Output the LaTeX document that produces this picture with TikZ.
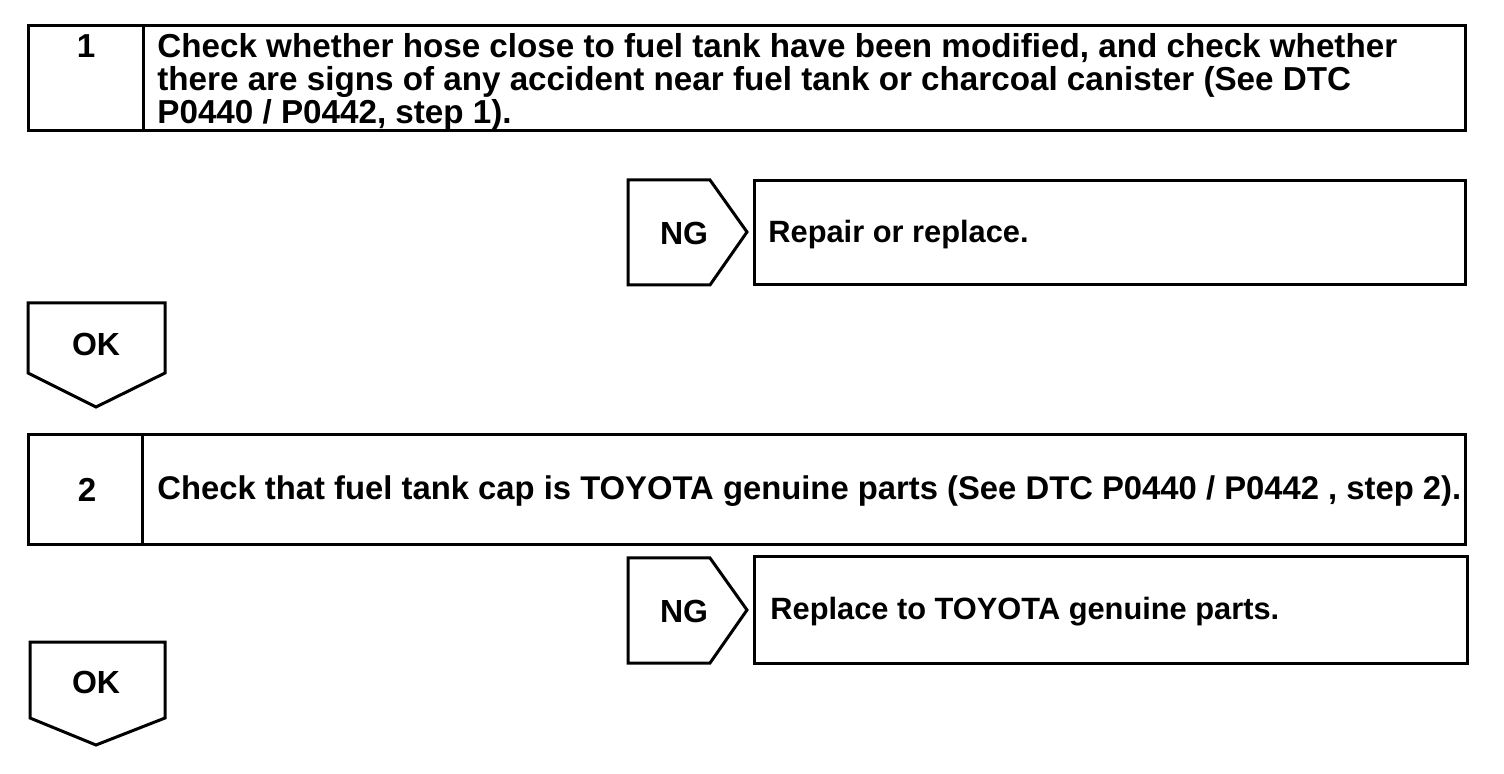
\documentclass[tikz,border=0pt]{standalone}
\usepackage{fontspec}
\setmainfont{Liberation Sans}
\usepackage{tikz}
\usetikzlibrary{positioning}

\tikzset{
  frame/.style={draw, line width=1.5pt, line join=miter},
  lbl/.style={font=\fontsize{16.6}{16.5}\selectfont\bfseries, inner sep=0pt},
  body/.style={lbl, align=left, anchor=west},
  note/.style={body, font=\fontsize{15.4}{16.5}\selectfont\bfseries}
}

\begin{document}
\begin{tikzpicture}[x=0.5pt, y=-0.5pt]
  \useasboundingbox (0,0) rectangle (1504,774);

  % step 1
  \draw[frame] (28,26) rectangle (1465,131);
  \draw[frame] (143,26) -- (143,131);
  \node[lbl] (num1) at (86,46) {1};
  \node[body, anchor=north west] (chk1) at (157,33) {Check whether hose close to fuel tank have been modified, and check whether\\
    there are signs of any accident near fuel tank or charcoal canister (See DTC\\
    P0440 / P0442, step 1).};

  % NG 1
  \draw[frame] (628,180) -- (710,180) -- (747,232) -- (710,285) -- (628,285) -- cycle;
  \node[lbl, font=\fontsize{16}{16.5}\selectfont\bfseries] (ng1) at (684,233) {NG};
  \draw[frame] (754,181) rectangle (1465,285);
  \node[note] (fix1) at (768,235) {Repair or replace.};

  % OK 1
  \draw[frame] (28,303) -- (165,303) -- (165,373) -- (96,407) -- (28,373) -- cycle;
  \node[lbl, font=\fontsize{16}{16.5}\selectfont\bfseries] (ok1) at (96,344) {OK};

  % step 2
  \draw[frame] (28,435) rectangle (1465,545);
  \draw[frame] (142,435) -- (142,545);
  \node[lbl] (num2) at (87,490) {2};
  \node[body, font=\fontsize{16.4}{16.5}\selectfont\bfseries] (chk2) at (157,491) {Check that fuel tank cap is TOYOTA genuine parts (See DTC P0440 / P0442 , step 2).};

  % NG 2
  \draw[frame] (628,558) -- (710,558) -- (747,610) -- (710,663) -- (628,663) -- cycle;
  \node[lbl, font=\fontsize{16}{16.5}\selectfont\bfseries] (ng2) at (684,611) {NG};
  \draw[frame] (754,557) rectangle (1467,663);
  \node[note] (fix2) at (770,612) {Replace to TOYOTA genuine parts.};

  % OK 2
  \draw[frame] (30,642) -- (165,642) -- (165,718) -- (96,745) -- (30,718) -- cycle;
  \node[lbl, font=\fontsize{16}{16.5}\selectfont\bfseries] (ok2) at (96,682) {OK};
\end{tikzpicture}
\end{document}
